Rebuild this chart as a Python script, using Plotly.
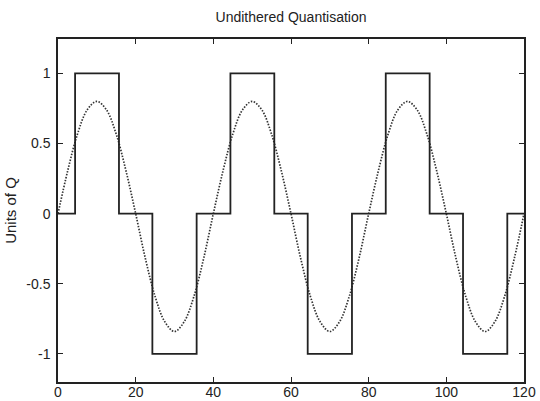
import plotly.graph_objects as go

sine_x = [i * 2.5 for i in range(49)]
sine_period = [0.0, 0.306, 0.566, 0.739, 0.80, 0.739, 0.566, 0.306,
               0.0, -0.32, -0.59, -0.77, -0.84, -0.77, -0.59, -0.32]
sine_y = sine_period * 3 + [0.0]

# Quantised output: step edges and levels
step_x = [0, 4.4, 15.7, 24.3, 35.7, 44.4, 55.7, 64.3, 75.7, 84.4, 95.7, 104.3, 115.7, 120]
step_y = [0, 1, 0, -1, 0, 1, 0, -1, 0, 1, 0, -1, 0, 0]

x_ticks = [0, 20, 40, 60, 80, 100, 120]
y_ticks = [-1, -0.5, 0, 0.5, 1]
y_tick_text = ["-1", "-0.5", "0", "0.5", "1"]

FONT = "Liberation Sans, Arial, Helvetica"
TXT = "#222222"

fig = go.Figure()
fig.add_trace(go.Scatter(x=sine_x, y=sine_y, mode="lines",
                         line=dict(color="#333333", width=1.7, dash="1.5px,1.5px", shape="spline"),
                         showlegend=False))
fig.add_trace(go.Scatter(x=step_x, y=step_y, mode="lines",
                         line=dict(color="#222222", width=1.8, shape="hv"),
                         showlegend=False))

axis_common = dict(showgrid=False, zeroline=False, showline=True, linecolor="#222222",
                   linewidth=1.5, mirror="ticks", ticks="inside", ticklen=5,
                   tickwidth=1.2, tickcolor="#222222",
                   tickfont=dict(family=FONT, size=14, color=TXT))

fig.update_layout(
    width=540, height=401,
    margin=dict(l=58, r=16, t=39, b=19, autoexpand=False),
    paper_bgcolor="white", plot_bgcolor="white",
    title=dict(text="Undithered Quantisation", x=0.539, xanchor="center", y=0.958, yanchor="middle",
               font=dict(family=FONT, size=14, color=TXT)),
    xaxis=dict(range=[0, 120], tickvals=x_ticks, ticklabelstandoff=-4, **axis_common),
    yaxis=dict(range=[-1.2, 1.245], tickvals=y_ticks, ticktext=y_tick_text,
               ticklabelstandoff=3,
               title=dict(text="Units of Q", standoff=6,
                          font=dict(family=FONT, size=15, color=TXT)),
               **axis_common),
)
fig.write_html("out.html")
